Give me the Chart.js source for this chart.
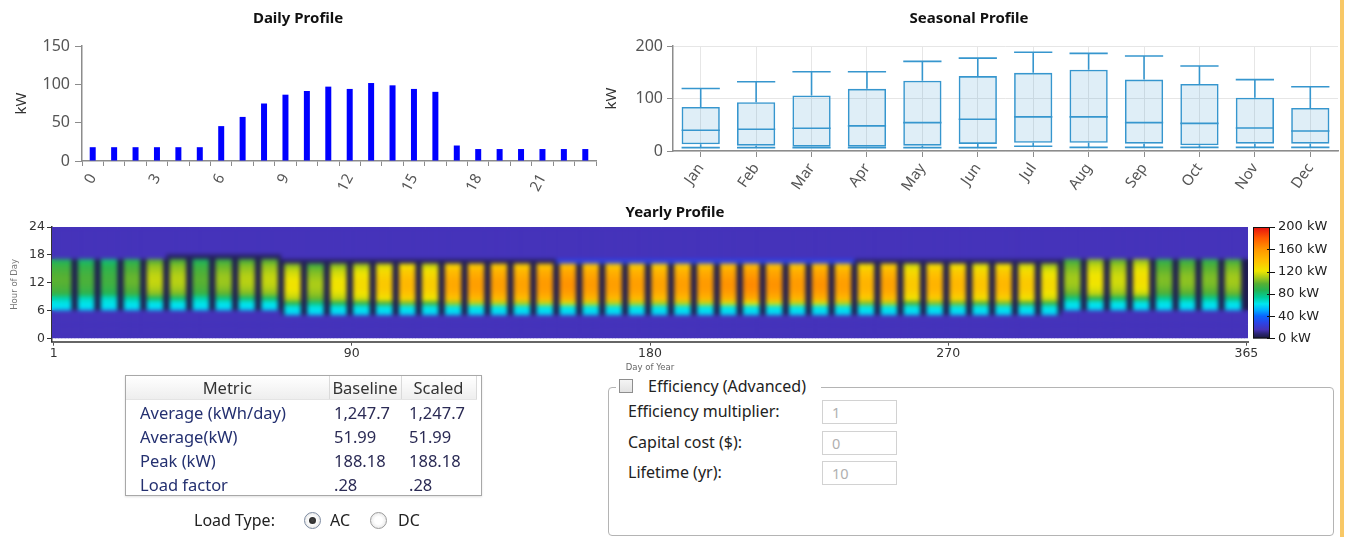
<!DOCTYPE html>
<html>
<head>
<meta charset="utf-8">
<title>Load Profile</title>
<script src="https://cdn.jsdelivr.net/npm/chart.js@4.4.1/dist/chart.umd.min.js"></script>
<style>
  html, body { margin: 0; padding: 0; background: #fff; width: 1350px; height: 537px; overflow: hidden;
    font-family: "Noto Sans", "DejaVu Sans", sans-serif; }
  .abs { position: absolute; }
  #frameEdge { left: 1340px; top: 0; width: 4px; height: 537px; background: #f8c866; }
  #metrics { left: 125px; top: 375px; width: 355px; height: 119px; border: 1px solid #a8a8a8;
    box-shadow: 0 1px 2px rgba(0,0,0,0.12); background: #fff; }
  #metrics table { border-collapse: collapse; font-size: 16.5px; }
  #metrics th { height: 23px; padding: 0; font-weight: normal; color: #333;
    background: linear-gradient(#ffffff, #eeeeee); border-right: 1px solid #dadada; border-bottom: 1px solid #e4e4e4; }
  #metrics td { height: 24px; padding: 0; color: #243070; white-space: nowrap; }
  #metrics td.name { padding-left: 14px; }
  #metrics td.base { padding-left: 5px; color: #2b2b55; }
  #metrics td.scal { padding-left: 8px; color: #2b2b55; }
  .lbl { font-size: 16px; color: #222; white-space: nowrap; line-height: 20px; }
  .radio { width: 15px; height: 15px; border-radius: 50%; border: 1px solid #9a9a9a;
    background: radial-gradient(circle, #ffffff 0%, #ffffff 35%, #dcdcdc 100%); }
  .radio.on { border-color: #7c8aa0; }
  .radio.on::after { content: ""; position: absolute; left: 4px; top: 4px; width: 7px; height: 7px;
    border-radius: 50%; background: radial-gradient(circle, #444 0%, #222 100%); }
  #effBox { left: 608px; top: 387px; width: 724px; height: 147px; border: 1px solid #b4b4b4; border-radius: 4px; }
  #effLegend { left: 616px; top: 376px; width: 205px; height: 22px; background: #fff; }
  #effCheck { left: 619px; top: 379px; width: 12px; height: 12px; border: 1px solid #8e8e8e;
    background: linear-gradient(#f4f4f4, #e2e2e2); }
  .field { border: 1px solid #d2d2d2; background: #fff; color: #b0b0b0;
    font-size: 14.5px; line-height: 22px; padding-left: 9px; box-sizing: border-box; width: 75px; height: 24px; }
</style>
</head>
<body>
<canvas id="daily" class="abs" style="left:0;top:0" width="610" height="200"></canvas>
<canvas id="seasonal" class="abs" style="left:600px;top:0" width="745" height="200"></canvas>
<canvas id="yearly" class="abs" style="left:0;top:200px" width="1350" height="175"></canvas>
<div id="frameEdge" class="abs"></div>

<div id="metrics" class="abs"><table id="metricTable"></table></div>

<div class="abs lbl" style="left:194px;top:510px">Load Type:</div>
<div class="abs radio on" style="left:304px;top:512px"></div>
<div class="abs lbl" style="left:330px;top:510px">AC</div>
<div class="abs radio" style="left:370px;top:512px"></div>
<div class="abs lbl" style="left:398px;top:510px">DC</div>

<div id="effBox" class="abs"></div>
<div id="effLegend" class="abs"></div>
<div id="effCheck" class="abs"></div>
<div class="abs lbl" style="left:648px;top:376px">Efficiency (Advanced)</div>
<div id="effFields"></div>

<script>
// ---------------- data ----------------
const HOURS = ['0','1','2','3','4','5','6','7','8','9','10','11','12','13','14','15','16','17','18','19','20','21','22','23'];
const DAILY_KW = [18, 18, 18, 18, 18, 18, 45.5, 57.5, 75, 86.5, 91.3, 97, 94, 101.7, 98.7, 94, 90.2, 20.2, 15.6, 15.6, 15.6, 15.6, 15.6, 15.6];

const MONTHS = ['Jan','Feb','Mar','Apr','May','Jun','Jul','Aug','Sep','Oct','Nov','Dec'];
const BOX_MIN = [6.5, 6.5, 6.5, 6.5, 6.5, 6.5, 9, 7, 7, 7, 7, 7];
const BOX_Q1  = [12.7, 10.2, 8.3, 8.3, 10.2, 13.4, 15.6, 15.6, 14, 10.8, 14, 14];
const BOX_MED = [39.5, 41.4, 43.3, 47.8, 54, 60.5, 65, 65, 54, 52.7, 43.8, 38];
const BOX_Q3  = [84, 93, 105.7, 118.5, 133.8, 142.7, 149, 155, 136, 127.6, 101.6, 82];
const BOX_MAX = [119, 132, 151, 151, 170.7, 177, 188.2, 186, 181, 162, 136, 122.5];

// Yearly profile: weekday midday level for each week of the year (kW)
const WEEK_LEVEL = [95, 92, 90, 97, 110, 108, 95, 104, 108, 110, 118, 106, 118, 122, 130, 138, 128, 145,
  150, 150, 148, 152, 155, 152, 150, 150, 148, 150, 152, 155, 158, 155, 152, 155, 150, 140, 148, 130,
  140, 138, 132, 138, 130, 122, 105, 118, 112, 120, 100, 102, 100, 105, 100];
// load in the hour right after closing, per week (kW)
const EVENING_KW = [16, 16, 16, 16, 16, 6, 6, 6, 6, 6, 6, 6, 6, 6, 6, 6, 6, 6, 6, 6, 6, 6,
  28, 28, 28, 28, 28, 28, 28, 28, 28, 28, 28, 28, 28, 7, 7, 7, 7, 7, 7, 7, 7, 7,
  16, 16, 16, 16, 16, 16, 16, 16, 16];
const NIGHT_KW = 16;
const WEEKEND_KW = 3;
const RAMP_KW = [60, 63];                                            // first two open hours
const BAND_SHAPE = [0.75, 0.95, 1.0, 1.03, 1.04, 1.03, 1.0, 0.97, 0.9]; // rest of the open hours, x week level
const DST_START = 71, DST_END = 308;                                 // open hours shift one hour earlier
const HOUR_TICKS = [0, 6, 12, 18, 24];
const DAY_TICK_LABELS = ['1', '90', '180', '270', '365'];
const KW_TICKS = [0, 40, 80, 120, 160, 200];

const METRIC_NAMES = ['Average (kWh/day)', 'Average(kW)', 'Peak (kW)', 'Load factor'];
const BASELINE = ['1,247.7', '51.99', '188.18', '.28'];
const SCALED = ['1,247.7', '51.99', '188.18', '.28'];

const EFF_LABELS = ['Efficiency multiplier:', 'Capital cost ($):', 'Lifetime (yr):'];
const EFF_VALUES = ['1', '0', '10'];

// ---------------- helpers ----------------
const FONT = '"Noto Sans", "DejaVu Sans", sans-serif';
const SMALL_FONT = '"DejaVu Sans", "Noto Sans", sans-serif';
Chart.defaults.font.family = FONT;
Chart.defaults.animation = false;
Chart.defaults.plugins.legend.display = false;
Chart.defaults.plugins.tooltip.enabled = false;

const COLOR_STOPS = [
  [0, [24, 24, 60]], [8, [42, 36, 112]], [16, [69, 51, 186]], [28, [44, 68, 230]], [40, [10, 100, 255]],
  [52, [0, 180, 255]], [62, [0, 230, 240]], [74, [0, 204, 154]], [86, [34, 180, 85]], [98, [85, 176, 52]],
  [110, [170, 204, 24]], [121, [240, 230, 0]], [140, [255, 190, 0]], [160, [255, 150, 0]],
  [180, [255, 90, 0]], [200, [230, 16, 16]]
];
function colorFor(v) {
  v = Math.max(0, Math.min(200, v));
  for (let i = 1; i < COLOR_STOPS.length; i++) {
    const [v1, c1] = COLOR_STOPS[i];
    if (v <= v1) {
      const [v0, c0] = COLOR_STOPS[i - 1];
      const t = (v - v0) / (v1 - v0);
      const c = c0.map((a, k) => Math.round(a + (c1[k] - a) * t));
      return 'rgb(' + c.join(',') + ')';
    }
  }
  return 'rgb(230,16,16)';
}

function loadAt(day, hour) {
  const w = Math.floor((day - 1) / 7);
  const weekend = day >= 7 && (day % 7 === 0 || day % 7 === 1);
  const start = (day >= DST_START && day <= DST_END) ? 5 : 6;
  const k = hour - start;
  const open = RAMP_KW.length + BAND_SHAPE.length;
  if (k >= 0 && k < open) {
    if (weekend) return WEEKEND_KW;
    if (k < RAMP_KW.length) return RAMP_KW[k];
    return WEEK_LEVEL[w] * BAND_SHAPE[k - RAMP_KW.length];
  }
  if (k === open) return EVENING_KW[w];
  return NIGHT_KW;
}

const tickFont = { family: FONT, size: 15 };
const axisGray = '#8c8c8c';

// ---------------- Daily Profile ----------------
new Chart(document.getElementById('daily'), {
  type: 'bar',
  data: { labels: HOURS, datasets: [{ data: DAILY_KW, backgroundColor: '#0000ff', barPercentage: 0.28, categoryPercentage: 1 }] },
  options: {
    responsive: false,
    layout: { padding: { right: 14 } },
    plugins: {
      title: { display: true, text: 'Daily Profile', color: '#111', font: { family: FONT, size: 15, weight: 'bold' }, padding: { top: 10, bottom: 18 } }
    },
    scales: {
      x: {
        grid: { display: true, drawOnChartArea: false, tickLength: 5, color: axisGray, offset: true },
        border: { color: axisGray, width: 1.5 },
        ticks: { autoSkip: false, maxRotation: 62, minRotation: 62, color: '#555', font: tickFont, padding: 5,
          callback: (v, i) => (i % 3 === 0 ? HOURS[i] : '') },
        afterFit: s => { s.height = 39; }
      },
      y: {
        min: 0, max: 150,
        ticks: { stepSize: 50, color: '#555', font: { family: FONT, size: 16 }, padding: 5 },
        grid: { display: true, drawOnChartArea: false, tickLength: 7, color: axisGray },
        border: { color: axisGray, width: 1.5 },
        title: { display: true, text: 'kW', color: '#333', font: { family: FONT, size: 15 }, padding: { top: 13, bottom: 0 } },
        afterFit: s => { s.width = 82; }
      }
    }
  }
});

// ---------------- Seasonal Profile (box plot) ----------------
const boxColor = 'rgb(54,150,206)';
const whiskers = {
  id: 'whiskers',
  afterDatasetsDraw(chart) {
    const { ctx } = chart;
    const y = chart.scales.y;
    const bars = chart.getDatasetMeta(0).data;
    ctx.save();
    ctx.strokeStyle = boxColor;
    ctx.lineWidth = 1.6;
    bars.forEach((bar, i) => {
      const half = bar.width / 2;
      const x = bar.x;
      const yMax = y.getPixelForValue(BOX_MAX[i]);
      const yMin = y.getPixelForValue(BOX_MIN[i]);
      const yQ1 = y.getPixelForValue(BOX_Q1[i]);
      const yQ3 = y.getPixelForValue(BOX_Q3[i]);
      const yMed = y.getPixelForValue(BOX_MED[i]);
      ctx.beginPath();
      ctx.moveTo(x, yQ3); ctx.lineTo(x, yMax);
      ctx.moveTo(x - half, yMax); ctx.lineTo(x + half, yMax);
      ctx.moveTo(x, yQ1); ctx.lineTo(x, yMin);
      ctx.moveTo(x - half, yMin); ctx.lineTo(x + half, yMin);
      ctx.moveTo(x - half, yMed); ctx.lineTo(x + half, yMed);
      ctx.stroke();
    });
    ctx.restore();
  }
};

new Chart(document.getElementById('seasonal'), {
  type: 'bar',
  data: {
    labels: MONTHS,
    datasets: [{
      data: MONTHS.map((m, i) => [BOX_Q1[i], BOX_Q3[i]]),
      backgroundColor: 'rgba(54,150,206,0.16)', borderColor: boxColor, borderWidth: 1.6, borderSkipped: false,
      barPercentage: 0.69, categoryPercentage: 1
    }]
  },
  plugins: [whiskers],
  options: {
    responsive: false,
    layout: { padding: { right: 7 } },
    plugins: {
      title: { display: true, text: 'Seasonal Profile', color: '#111', font: { family: FONT, size: 15, weight: 'bold' }, padding: { top: 10, bottom: 18 } }
    },
    scales: {
      x: {
        grid: { display: true, offset: false, color: '#e6e6e6', tickColor: axisGray, tickLength: 6 },
        border: { color: axisGray, width: 1.5 },
        ticks: { autoSkip: false, maxRotation: 55, minRotation: 55, color: '#555', font: tickFont, padding: 3 },
        afterFit: s => { s.height = 49; }
      },
      y: {
        min: 0, max: 200,
        ticks: { stepSize: 100, color: '#555', font: { family: FONT, size: 16 }, padding: 4 },
        grid: { display: true, color: '#e6e6e6', tickColor: axisGray, tickLength: 6 },
        border: { color: axisGray, width: 1.5 },
        title: { display: true, text: 'kW', color: '#333', font: { family: FONT, size: 15 }, padding: { top: 3, bottom: 0 } },
        afterFit: s => { s.width = 73; }
      }
    }
  }
});

// ---------------- Yearly Profile (heat map) ----------------
const DAYS = Array.from({ length: 365 }, (_, i) => String(i + 1));
const DAY_TICK_INDEX = DAY_TICK_LABELS.map((_, k) => Math.round(k * (DAYS.length - 1) / (DAY_TICK_LABELS.length - 1)));

const hourSets = HOURS.map((_, h) => ({
  data: DAYS.map(() => [h, h + 1]),
  backgroundColor: DAYS.map((_, i) => colorFor(loadAt(i + 1, h))),
  borderWidth: 0, grouped: false, barPercentage: 1, categoryPercentage: 1
}));

// the rendered cell grid is smoothed like an interpolated image
const smoothCells = {
  id: 'smoothCells',
  afterDatasetsDraw(chart) {
    const { ctx, chartArea } = chart;
    const x0 = Math.round(chartArea.left), y0 = Math.round(chartArea.top);
    const w = Math.round(chartArea.right) - x0;
    const h = Math.round(chart.scales.y.getPixelForValue(0)) - y0;
    const off = document.createElement('canvas');
    off.width = w; off.height = h;
    off.getContext('2d').drawImage(chart.canvas, x0, y0, w, h, 0, 0, w, h);
    ctx.save();
    ctx.beginPath(); ctx.rect(x0, y0, w, h); ctx.clip();
    ctx.filter = 'blur(1.9px)';
    ctx.drawImage(off, x0, y0);
    ctx.restore();
  }
};

// colour bar drawn against the kW scale on the right
const colorBar = {
  id: 'colorBar',
  afterDraw(chart) {
    const { ctx } = chart;
    const cb = chart.scales.cb;
    const xa = cb.left + 5, xb = cb.left + 22;
    const yTop = cb.getPixelForValue(KW_TICKS[KW_TICKS.length - 1]);
    const yBot = cb.getPixelForValue(KW_TICKS[0]);
    const g = ctx.createLinearGradient(0, yBot, 0, yTop);
    COLOR_STOPS.forEach(([v, c]) => g.addColorStop(v / 200, 'rgb(' + c.join(',') + ')'));
    ctx.save();
    ctx.fillStyle = g;
    ctx.fillRect(xa, yTop, xb - xa, yBot - yTop);
    ctx.strokeStyle = '#111';
    ctx.lineWidth = 1;
    ctx.strokeRect(xa + 0.5, yTop + 0.5, xb - xa - 1, yBot - yTop - 1);
    ctx.beginPath();
    KW_TICKS.forEach(v => {
      const yy = Math.round(cb.getPixelForValue(v)) + 0.5;
      ctx.moveTo(xb - 3, yy); ctx.lineTo(xb + 5, yy);
    });
    ctx.stroke();
    ctx.restore();
  }
};

new Chart(document.getElementById('yearly'), {
  type: 'bar',
  data: { labels: DAYS, datasets: hourSets },
  plugins: [smoothCells, colorBar],
  options: {
    responsive: false,
    plugins: {
      title: { display: true, text: 'Yearly Profile', color: '#111', font: { family: FONT, size: 15, weight: 'bold' }, padding: { top: 4, bottom: 5 } }
    },
    scales: {
      x: {
        grid: { display: true, drawOnChartArea: false, offset: false, tickLength: 4, color: '#555' },
        border: { color: '#666', width: 2 },
        ticks: { autoSkip: false, maxRotation: 0, color: '#333', font: { family: SMALL_FONT, size: 12.5 }, padding: 1,
          callback: (v, i) => { const q = DAY_TICK_INDEX.indexOf(i); return q >= 0 ? DAY_TICK_LABELS[q] : null; } },
        title: { display: true, text: 'Day of Year', color: '#666', font: { family: SMALL_FONT, size: 8.5 }, padding: { top: 0, bottom: 2.2 } },
        afterFit: s => { s.height = 33.3; }
      },
      y: {
        min: -0.7, max: 24,
        afterBuildTicks: s => { s.ticks = HOUR_TICKS.map(v => ({ value: v })); },
        ticks: { color: '#333', font: { family: SMALL_FONT, size: 12.5 }, padding: 2 },
        grid: { display: true, drawOnChartArea: false, tickLength: 5, color: '#333' },
        border: { color: '#333', width: 1.5 },
        title: { display: true, text: 'Hour of Day', color: '#777', font: { family: SMALL_FONT, size: 8.5 }, padding: { top: 10, bottom: 0 } },
        afterFit: s => { s.width = 52; }
      },
      cb: {
        type: 'linear', position: 'right', min: -5.83, max: 200,
        afterBuildTicks: s => { s.ticks = KW_TICKS.map(v => ({ value: v })); },
        ticks: { color: '#222', font: { family: SMALL_FONT, size: 13 }, padding: 3, callback: v => v + ' kW' },
        grid: { display: true, drawOnChartArea: false, tickLength: 27, color: 'rgba(0,0,0,0)' },
        border: { display: false },
        afterFit: s => { s.width = 102; }
      }
    }
  }
});

// ---------------- metrics table and efficiency panel ----------------
(function buildTable() {
  const t = document.getElementById('metricTable');
  let html = '<colgroup><col style="width:203px"><col style="width:72px"><col style="width:75px"></colgroup>';
  html += '<tr><th>Metric</th><th>Baseline</th><th>Scaled</th></tr>';
  METRIC_NAMES.forEach((n, i) => {
    html += '<tr><td class="name">' + n + '</td><td class="base">' + BASELINE[i] + '</td><td class="scal">' + SCALED[i] + '</td></tr>';
  });
  t.innerHTML = html;
})();

(function buildFields() {
  const host = document.getElementById('effFields');
  const rowTop = [400, 431, 461];
  let html = '';
  EFF_LABELS.forEach((l, i) => {
    html += '<div class="abs lbl" style="left:628px;top:' + (rowTop[i] + 1) + 'px">' + l + '</div>';
    html += '<div class="abs field" style="left:822px;top:' + rowTop[i] + 'px">' + EFF_VALUES[i] + '</div>';
  });
  host.innerHTML = html;
})();
</script>
</body>
</html>
